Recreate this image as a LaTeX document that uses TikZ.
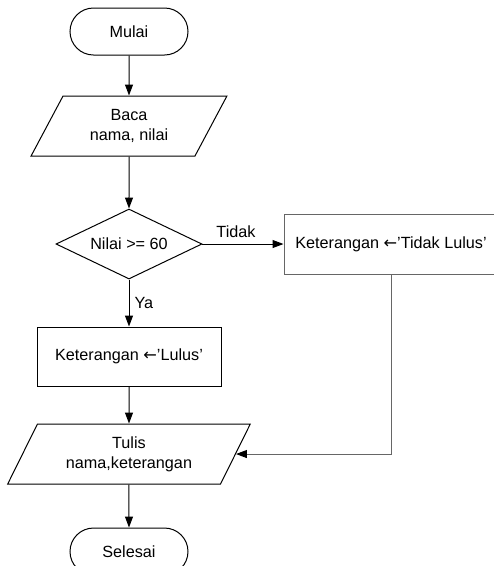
\documentclass[tikz,border=0pt]{standalone}
\usepackage{fontspec}
\setmainfont{Liberation Sans}
\newfontfamily\panah{DejaVu Sans}
\usetikzlibrary{positioning,shapes.geometric,arrows.meta}

\tikzset{
	terminal/.style={draw, rectangle, rounded corners=23.5pt, minimum width=118pt, minimum height=47pt},
	io/.style={draw, trapezium, trapezium left angle=62.7, trapezium right angle=117.3, trapezium stretches=true, minimum height=60pt, align=center},
	proses/.style={draw, rectangle, minimum height=59pt},
	keputusan/.style={draw, diamond, aspect=2.1, inner sep=1pt, minimum width=146pt, minimum height=70pt},
	alur/.style={->, >={Triangle[length=11pt,width=8pt,color=black]}},
}

\begin{document}
\begin{tikzpicture}[x=1pt, y=1pt, line width=1pt, font=\fontsize{16.2}{20}\selectfont]
	\useasboundingbox (0,0) rectangle (494,-566);
	\node[terminal] (mulai) at (129,-31.5) {Mulai};
	\node[io, minimum width=196pt, below=40pt of mulai] (baca) {Baca\\nama, nilai};
	\node[keputusan, below=52pt of baca] (cek) {Nilai >= 60};
	\node[proses, draw=black!60, minimum width=214pt, minimum height=60pt, right=81pt of cek] (tidak) {Keterangan {\panah ←}’Tidak Lulus’};
	\node[proses, minimum width=184pt, below=47pt of cek] (lulus) {Keterangan {\panah ←}’Lulus’};
	\node[io, minimum width=243pt, below=37pt of lulus] (tulis) {Tulis\\nama,keterangan};
	\node[terminal, below=43pt of tulis] (selesai) {Selesai};

	\draw [alur] (mulai) -- (baca);
	\draw [alur] (baca) -- (cek);
	\draw [alur] (cek) -- node[above, inner sep=6pt, xshift=-7pt] {Tidak} (tidak);
	\draw [alur] (cek) -- node[right, inner sep=5pt] {Ya} (lulus);
	\draw [alur] (lulus) -- (tulis);
	\draw [alur, black!60] (tidak.south) |- (tulis.east);
	\draw [alur] (tulis) -- (selesai);
\end{tikzpicture}
\end{document}
